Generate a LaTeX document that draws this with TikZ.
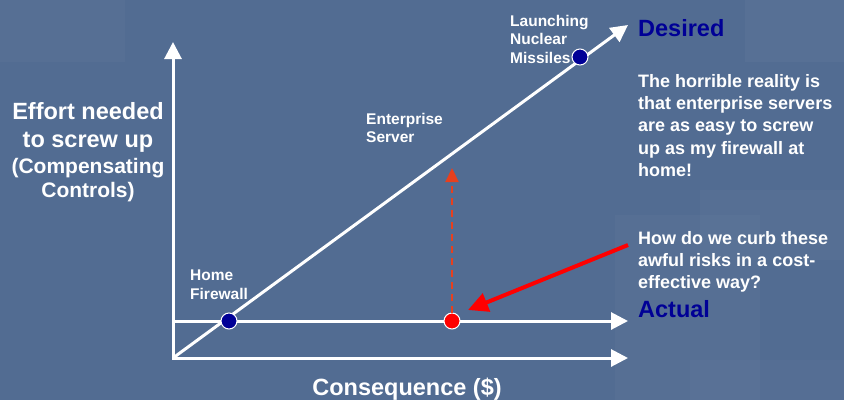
\documentclass[tikz,border=0pt]{standalone}
\usepackage{fontspec}
\setmainfont{Liberation Sans}
\usetikzlibrary{arrows.meta}
\definecolor{slate}{RGB}{82,108,146}
\definecolor{navy}{RGB}{0,0,150}
\definecolor{dashred}{RGB}{232,64,30}
\tikzset{
	>={Triangle[length=17pt, width=17pt]},
	axis/.style = {white, line width=3pt},
	dot/.style = {circle, draw=white, line width=1pt, inner sep=0pt, minimum size=16pt},
	lbl/.style = {white, inner sep=0pt, align=left, anchor=north west},
	small/.style = {font=\bfseries\fontsize{15.5}{18.5}\selectfont},
	note/.style = {font=\bfseries\fontsize{18}{22.3}\selectfont},
	big/.style = {font=\bfseries\fontsize{23.5}{28}\selectfont},
}
\begin{document}
\begin{tikzpicture}[x=1pt, y=-1pt]
		\fill[slate] (0, 0) rectangle (844, 400);
		\useasboundingbox (0, 0) rectangle (844, 400);
		\fill[white, opacity=0.025] (0, 0) rectangle (125, 62);
		\fill[white, opacity=0.03] (745, 0) rectangle (844, 62);
		\fill[white, opacity=0.025] (615, 215) rectangle (760, 400);
		\fill[white, opacity=0.025] (700, 190) rectangle (844, 260);
		\fill[white, opacity=0.02] (690, 360) rectangle (844, 400);
		%%%%%%%%%
		\coordinate (O) at (173, 358);
		\coordinate (yTip) at (173, 42);
		\coordinate (xTip) at (628, 358);
		\coordinate (aStart) at (173, 321);
		\coordinate (aTip) at (628, 321);
		\coordinate (dTip) at (628, 25);
		\coordinate (qStart) at (628, 245);
		\draw[axis, <->] (yTip) -- (O) -- (xTip);
		\draw[axis, ->] (aStart) -- (aTip);
		\draw[axis, ->] (O) -- (dTip);
		%%%%%%%%%
		\node[dot, fill=navy] (home) at (229, 321) {};
		\node[dot, fill=navy] (missiles) at (580, 57) {};
		\node[dot, fill=red] (ent) at (452, 321) {};
		\coordinate (entUp) at (452, 168);
		\coordinate (qEnd) at (468, 310);
		\draw[dashred, line width=2.3pt, dash pattern=on 7pt off 5pt, -{Triangle[length=14pt, width=13pt]}] (ent) -- (entUp);
		\draw[red, line width=4pt, -{Triangle[length=20pt, width=19pt]}] (qStart) -- (qEnd);
		%%%%%%%%%
		\node[lbl, small] (homeLbl) at (190, 270) {Home\\Firewall};
		\node[lbl, small] (entLbl) at (366, 113) {Enterprise\\Server};
		\node[lbl, small] (missLbl) at (510, 15) {Launching\\Nuclear\\Missiles};
		\node[lbl, big, align=center, anchor=north] (effortLbl) at (88, 102) {Effort needed\\to screw up};
		\node[lbl, align=center, anchor=north, font=\bfseries\fontsize{21}{24.5}\selectfont] (compLbl) at (88, 158) {(Compensating\\Controls)};
		\node[lbl, big, anchor=base] (xLbl) at (407, 395) {Consequence (\$)};
		\node[lbl, big, text=navy, anchor=base west] (desired) at (638, 36) {Desired};
		\node[lbl, big, text=navy, anchor=base west] (actual) at (638, 317) {Actual};
		\node[lbl, note] (reality) at (638, 74) {The horrible reality is\\that enterprise servers\\are as easy to screw\\up as my firewall at\\home!};
		\node[lbl, note] (question) at (638, 231) {How do we curb these\\awful risks in a cost-\\effective way?};
\end{tikzpicture}
\end{document}
